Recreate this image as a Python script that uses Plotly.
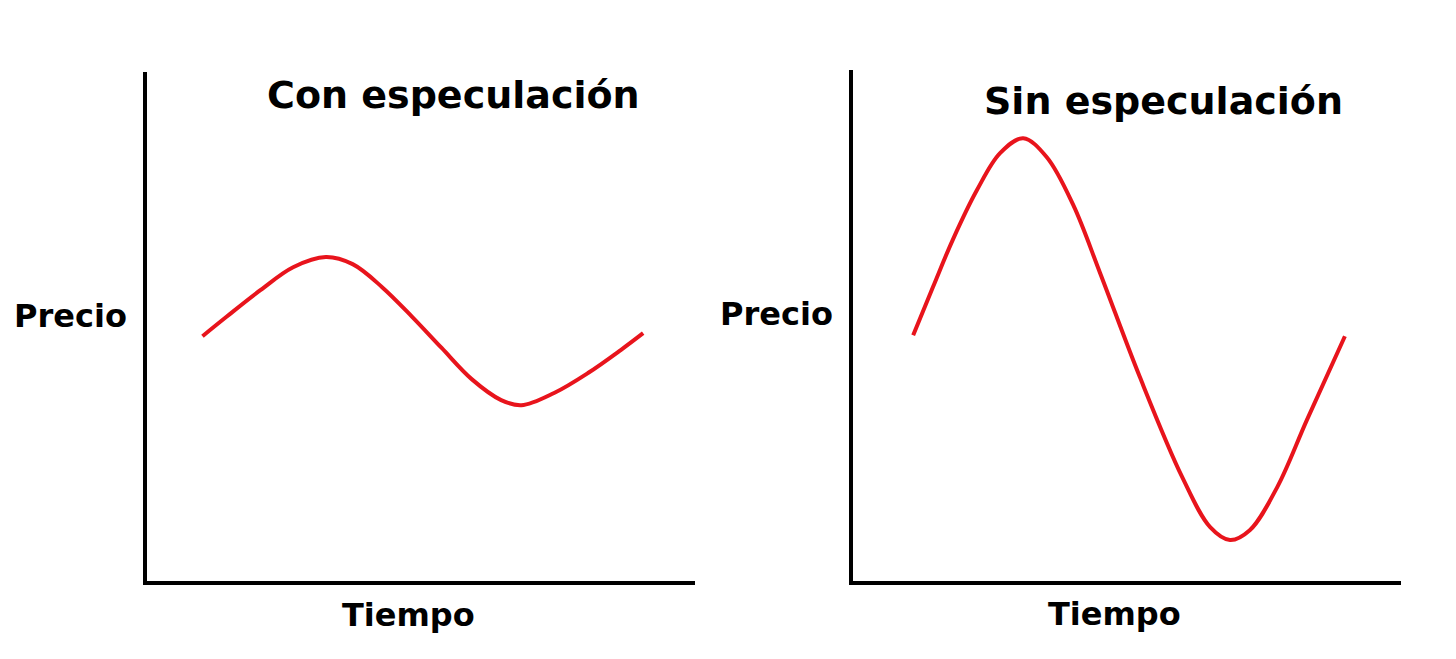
import plotly.graph_objects as go

# Page has an 8px body margin; figure fills the rest of the 1456x659 window
OFF = 8
W, H = 1456 - 2 * OFF, 659 - 2 * OFF

# Data (abstract units: time 0-10, price 0-10)
t_con = [0.98, 1.42, 2.04, 2.64, 3.24, 3.73, 4.27, 4.82, 5.36, 5.91, 6.45, 6.82, 7.42, 8.04, 8.64, 9.05]
p_con = [4.83, 5.21, 5.73, 6.18, 6.38, 6.24, 5.79, 5.21, 4.60, 3.99, 3.58, 3.48, 3.72, 4.11, 4.56, 4.89]

t_sin = [1.13, 1.49, 1.85, 2.29, 2.71, 3.13, 3.56, 4.04, 4.53, 5.25, 6.02, 6.53, 6.89, 7.25, 7.75, 8.29, 8.98]
p_sin = [4.83, 5.77, 6.69, 7.66, 8.38, 8.67, 8.30, 7.37, 6.04, 4.02, 2.07, 1.09, 0.84, 1.03, 1.87, 3.18, 4.81]

titles = ["Con especulación", "Sin especulación"]
x_label = "Tiempo"
y_label = "Precio"

RED = "#e8141c"
FONT = "DejaVu Sans"


def px(sx):
    return (sx - OFF) / W


def py(sy):
    return 1 - (sy - OFF) / H


fig = go.Figure()
fig.add_trace(go.Scatter(x=t_con, y=p_con, mode="lines",
                         line=dict(color=RED, width=4, shape="spline", smoothing=1.0),
                         xaxis="x", yaxis="y", showlegend=False, hoverinfo="skip"))
fig.add_trace(go.Scatter(x=t_sin, y=p_sin, mode="lines",
                         line=dict(color=RED, width=4, shape="spline", smoothing=1.0),
                         xaxis="x2", yaxis="y2", showlegend=False, hoverinfo="skip"))


def ax(domain, anchor, rng):
    return dict(domain=domain, anchor=anchor, range=rng, showline=True, linecolor="black",
                linewidth=4, showgrid=False, zeroline=False, showticklabels=False, ticks="",
                fixedrange=True)


fig.update_layout(
    width=W, height=H, margin=dict(l=0, r=0, t=0, b=0),
    paper_bgcolor="white", plot_bgcolor="white",
    xaxis=ax([px(147), px(695)], "y", [-0.036, 10]),
    yaxis=ax([py(581), py(72)], "x", [0.04, 10]),
    xaxis2=ax([px(853), px(1401)], "y2", [0.036, 10]),
    yaxis2=ax([py(581), py(70)], "x2", [0.04, 10]),
)


def label(text, x, y, size):
    fig.add_annotation(text=f"<b>{text}</b>", x=px(x), y=py(y), xref="paper", yref="paper",
                       showarrow=False, xanchor="center", yanchor="middle",
                       font=dict(family=FONT, size=size, color="black"))


label(titles[0], 453, 95, 38)
label(titles[1], 1163, 101, 38)
label(y_label, 71, 316, 32)
label(y_label, 776, 314, 32)
label(x_label, 408, 615, 32)
label(x_label, 1114, 614, 32)

fig.write_html("out.html")
